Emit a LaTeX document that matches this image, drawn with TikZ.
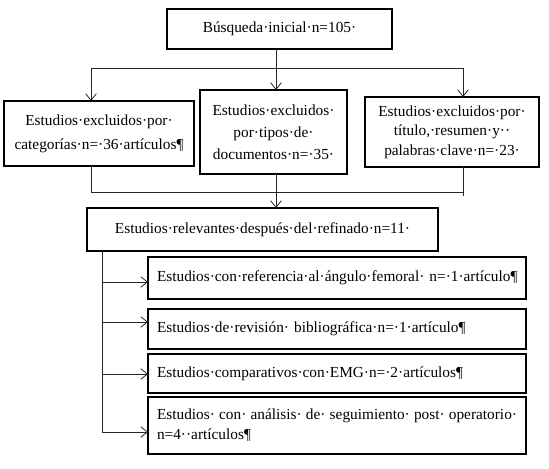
\documentclass[tikz,border=0pt]{standalone}
\usepackage{fontspec}
\setmainfont{Liberation Serif}
\usetikzlibrary{arrows.meta}
\begin{document}
\begin{tikzpicture}[x=0.75pt,y=-0.75pt,
  box/.style={draw, line width=0.85pt, inner ysep=0pt, inner xsep=0pt, outer sep=0pt, align=center},
  subbox/.style={box, minimum width=283.5pt, text width=270pt, inner xsep=6.75pt, align=left, font=\fontsize{11.5}{15}\selectfont},
  conn/.style={line width=0.7pt, draw=black!85},
  arr/.style={conn, -{Straight Barb[length=5pt,width=8pt,line width=0.6pt]}}]
\useasboundingbox (0,0) rectangle (549,468);
\fill[white] (0,0) rectangle (549,468);

% boxes
\node[box, minimum width=168.75pt, minimum height=30pt, font=\fontsize{11.5}{17}\selectfont] (top) at (279.5,29) {Búsqueda·inicial·n=105·};
\node[box, minimum width=142.5pt, minimum height=48.75pt, font=\fontsize{11.5}{18}\selectfont] (left) at (99,133.5) {Estudios·excluidos·por·\\categorías·n=·36·artículos¶};
\node[box, minimum width=110.25pt, minimum height=63pt, font=\fontsize{11.5}{16.5}\selectfont] (mid) at (273.5,132) {Estudios·excluidos·\\por·tipos·de·\\documentos·n=·35·};
\node[box, minimum width=130.5pt, minimum height=52.5pt, font=\fontsize{11.5}{14.5}\selectfont] (right) at (452,132) {Estudios·excluidos·por·\\título,·resumen·y··\\palabras·clave·n=·23·};
\node[box, minimum width=263.25pt, minimum height=32.25pt, font=\fontsize{11.5}{17}\selectfont] (rel) at (262.5,229.5) {Estudios·relevantes·después·del·refinado·n=11·};

\node[subbox, minimum height=31.5pt] (s1) at (337,278) {\mbox{Estudios·con·referencia·al·ángulo·femoral· n=·1·artículo¶}};
\node[subbox, minimum height=30pt] (s2) at (337,329) {\raisebox{-3pt}{Estudios·de·revisión· bibliográfica·n=·1·artículo¶}};
\node[subbox, minimum height=29.25pt] (s3) at (337,373.5) {\mbox{Estudios·comparativos·con·EMG·n=·2·artículos¶}};
\node[subbox, minimum height=42.75pt] (s4) at (337,425.5) {\makebox[270pt][l]{Estudios·\hfill con·\hfill análisis·\hfill de·\hfill seguimiento·\hfill post·\hfill operatorio·}\\n=4··artículos¶};

% top branching
\coordinate (spine) at (276,68);
\coordinate (hl) at (91,68);
\coordinate (hr) at (463,68);
\draw[conn] (top.south -| spine) -- (spine);
\draw[conn] (hl) -- (hr);
\draw[arr] (hl) -- (hl |- left.north);
\draw[arr] (spine) -- (spine |- mid.north);
\draw[arr] (hr) -- (hr |- right.north);

% merging
\coordinate (bl) at (91,192);
\coordinate (br) at (463,192);
\coordinate (brx) at (463,196);
\draw[conn] (left.south -| bl) -- (bl) -- (br);
\draw[conn] (right.south -| br) -- (brx);
\draw[arr] (mid.south -| spine) -- (spine |- rel.north);

% left spine
\coordinate (ls) at (102,432);
\draw[conn] (rel.south -| ls) -- (ls);
\coordinate (a1) at (102,282);
\coordinate (a2) at (102,322);
\coordinate (a3) at (102,374);
\coordinate (a4) at (102,432);
\draw[arr] (a1) -- (a1 -| s1.west);
\draw[arr] (a2) -- (a2 -| s2.west);
\draw[arr] (a3) -- (a3 -| s3.west);
\draw[arr] (a4) -- (a4 -| s4.west);
\end{tikzpicture}
\end{document}
